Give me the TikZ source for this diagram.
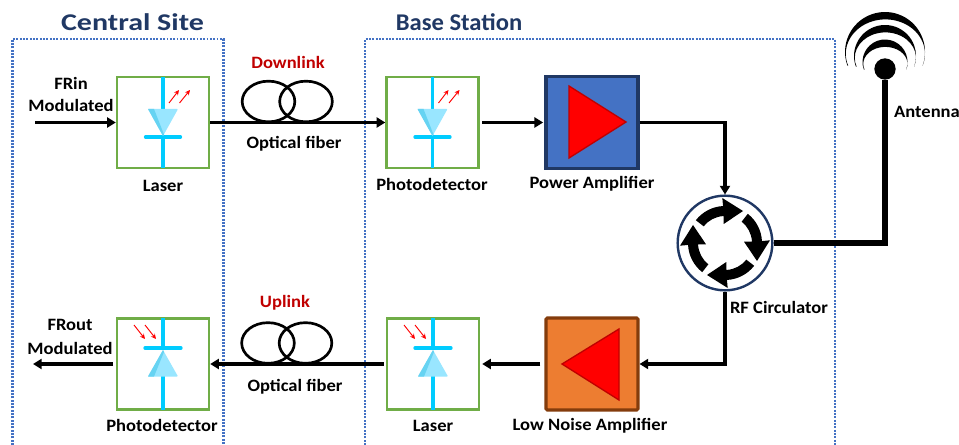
\documentclass[tikz,border=0pt]{standalone}
\usepackage{fontspec}
\usepackage{graphicx}
\setmainfont{Carlito}
\newfontfamily\lblfont[FakeStretch=1.07]{Carlito}
\newfontfamily\ttlfont[FakeStretch=1.25]{Carlito}
\usetikzlibrary{arrows.meta,calc,shapes.geometric}
\definecolor{navy}{HTML}{203864}
\definecolor{dotblue}{HTML}{4472C4}
\definecolor{boxgreen}{HTML}{70AD47}
\definecolor{cyanline}{HTML}{00CCFF}
\definecolor{trilight}{HTML}{99E6FF}
\definecolor{tridark}{HTML}{66D3F2}
\definecolor{darkred}{HTML}{C00000}
\definecolor{amporange}{HTML}{ED7D31}
\definecolor{ampbrown}{HTML}{843C0C}
\tikzset{
  x=0.75pt,y=-0.75pt,
  lbl/.style={font=\lblfont\bfseries\fontsize{13}{15}\selectfont,text=black,inner sep=0pt,align=center},
  title/.style={font=\ttlfont\bfseries\fontsize{18}{20}\selectfont,text=navy,inner sep=0pt},
  linklbl/.style={font=\lblfont\bfseries\fontsize{13}{15}\selectfont,text=darkred,inner sep=0pt},
  frame/.style={draw=dotblue,line width=1.6pt,dash pattern=on 1.4pt off 1.1pt},
  diodebox/.style={draw=boxgreen,line width=1.8pt,fill=white,minimum width=69pt,minimum height=68.5pt,inner sep=0pt},
  ampbox/.style={line width=2.3pt,minimum width=69pt,minimum height=69pt,inner sep=0pt},
  wire/.style={draw=black,line width=2.3pt},
  flow/.style={wire,-{Triangle[length=6.5pt,width=7.5pt]}},
  fiberloop/.style={draw=black,line width=2pt,ellipse,minimum width=39.5pt,minimum height=30.5pt,inner sep=0pt},
  cy/.style={draw=cyanline,line width=2.5pt},
  glow/.style={draw=red,line width=0.7pt,-{Stealth[length=3.8pt,width=3.6pt]}},
  amptri/.style={fill=red,draw=darkred,line width=1pt,line join=miter},
  crescent/.style={fill=black},
  cirarrow/.style={fill=black},
}
\newcommand{\diodeup}[1]{%
  \begin{scope}[shift={(#1)}]
    \draw[cy] (0,-45.5) -- (0,-13.5) (0,14.5) -- (0,45.5);
    \draw[cy,line cap=round] (-17.5,14.5) -- (17.5,14.5);
    \fill[trilight,rounded corners=0.6pt] (-15,-13.5) -- (15,-13.5) -- (0,13.5) -- cycle;
    \fill[tridark] (-15,-13.5) -- (-9,-13.5) -- (1,12) -- (0,13.5) -- cycle;
    \draw[glow] (6,-19.5) -- (16,-32.5);
    \draw[glow] (16.5,-19.5) -- (27,-32.5);
  \end{scope}}
\newcommand{\diodedown}[1]{%
  \begin{scope}[shift={(#1)}]
    \draw[cy] (0,-46) -- (0,-15) (0,12) -- (0,46);
    \draw[cy,line cap=round] (-18,-16) -- (18,-16);
    \fill[trilight,rounded corners=0.6pt] (-15,12.5) -- (15,12.5) -- (0,-14) -- cycle;
    \fill[tridark] (-15,12.5) -- (-9,12.5) -- (1,-12) -- (0,-14) -- cycle;
    \draw[glow] (-29,-39) -- (-18,-25);
    \draw[glow] (-18,-39) -- (-7,-25);
  \end{scope}}
\newcommand{\crescentarc}[4]{% cx, cy, r, thickness
  \fill[crescent] ($(#1,#2)+(-#3*0.9397,#3*0.342)$)
    arc[start angle=160,end angle=380,x radius=#3,y radius=#3]
    arc[start angle=380,end angle=160,x radius=#3-0.4,y radius=#3-#4] -- cycle;}
\begin{document}
\begin{tikzpicture}
\useasboundingbox (0,0) rectangle (959,445);
% frames
\draw[frame] (12.5,445) -- (12.5,39) -- (223.5,39) -- (223.5,445);
\draw[frame] (365,445) -- (365,39) -- (835,39) -- (835,445);
\node[title] (tcentral) at (132.5,22) {Central Site};
\node[title] (tbase) at (459,22) {\scalebox{0.82}[1]{Base Station}};
% boxes
\node[diodebox] (laserA) at (163,122.5) {};
\node[diodebox] (pdA) at (432.5,122.5) {};
\node[diodebox] (pdB) at (163,364) {};
\node[diodebox] (laserB) at (433,364) {};
\diodeup{163,122.5}
\diodeup{432.5,122.5}
\diodedown{163,364}
\diodedown{433,364}
\node[ampbox,draw=navy,fill=dotblue] (pa) at (592,122.5) {};
\node[ampbox,draw=ampbrown,fill=amporange,rounded corners=1pt] (lna) at (592,364) {};
\fill[amptri] (569,86) -- (569,158) -- (626,122) -- cycle;
\fill[amptri] (562,364) -- (619,329) -- (619,400) -- cycle;
% circulator
\node[draw=navy,line width=1.8pt,circle,fill=white,minimum size=71pt,inner sep=0pt] (circ) at (725,243) {};
\foreach \a in {0,90,180,270}{
  \begin{scope}[shift={(725,243)},rotate=\a]
    \fill[cirarrow] (-142:37) arc[start angle=-142,end angle=-93,radius=37]
      -- (-2.7,-45) -- (18,-32) -- (-1.3,-19) -- (-93:27)
      arc[start angle=-93,end angle=-142,radius=27] -- cycle;
  \end{scope}}
% antenna
\node[fill=black,circle,minimum size=16pt,inner sep=0pt] (ant) at (885,69) {};
\crescentarc{885}{52}{40}{5.5}
\crescentarc{885}{56}{31}{5.5}
\crescentarc{885}{62}{22.5}{5.5}
% fibers
\node[fiberloop] (f1a) at (268.5,101.5) {};
\node[fiberloop] (f1b) at (306,101.5) {};
\node[fiberloop] (f2a) at (268,343) {};
\node[fiberloop] (f2b) at (305.5,343) {};
% connectors
\coordinate (inA) at (35,122.5);
\coordinate (outB) at (33,364);
\coordinate (bend1) at (725,122.5);
\coordinate (bend2) at (725,364);
\coordinate (bend3) at (885,243);
\draw[flow] (inA) -- (laserA.west);
\draw[flow] (laserA.east) -- (pdA.west);
\draw[flow,shorten <=2pt,shorten >=1pt] (pdA.east) -- (pa.west);
\draw[flow] (pa.east) -- (bend1) -- (circ.north);
\draw[flow] (circ.south) -- (bend2) -- (lna.east);
\draw[flow,shorten <=3pt,shorten >=1.5pt] (lna.west) -- (laserB.east);
\draw[flow,shorten <=1.5pt] (laserB.west) -- (pdB.east);
\draw[flow,shorten <=2pt] (pdB.west) -- (outB);
\draw[draw=black,line width=5pt] (circ.east) -- (bend3) -- (ant.south);
% labels
\node[lbl] (l1) at (71,83) {FRin};
\node[lbl] (l2) at (71,105) {Modulated};
\node[lbl] (l3) at (163,186) {Laser};
\node[linklbl] (l4) at (288,62) {Downlink};
\node[lbl] (l5) at (294,144) {Optical fiber};
\node[lbl] (l6) at (432,184) {Photodetector};
\node[lbl] (l7) at (592,184) {Power Amplifier};
\node[lbl] (l8) at (927,112) {Antenna};
\node[lbl] (l9) at (779,307) {RF Circulator};
\node[lbl] (l10) at (70,325) {FRout};
\node[lbl] (l11) at (70,348) {Modulated};
\node[lbl] (l12) at (162,425) {Photodetector};
\node[linklbl] (l13) at (285,303) {Uplink};
\node[lbl] (l14) at (295,387) {Optical fiber};
\node[lbl] (l15) at (433,426) {Laser};
\node[lbl] (l16) at (590,426) {Low Noise Amplifier};
\end{tikzpicture}
\end{document}
